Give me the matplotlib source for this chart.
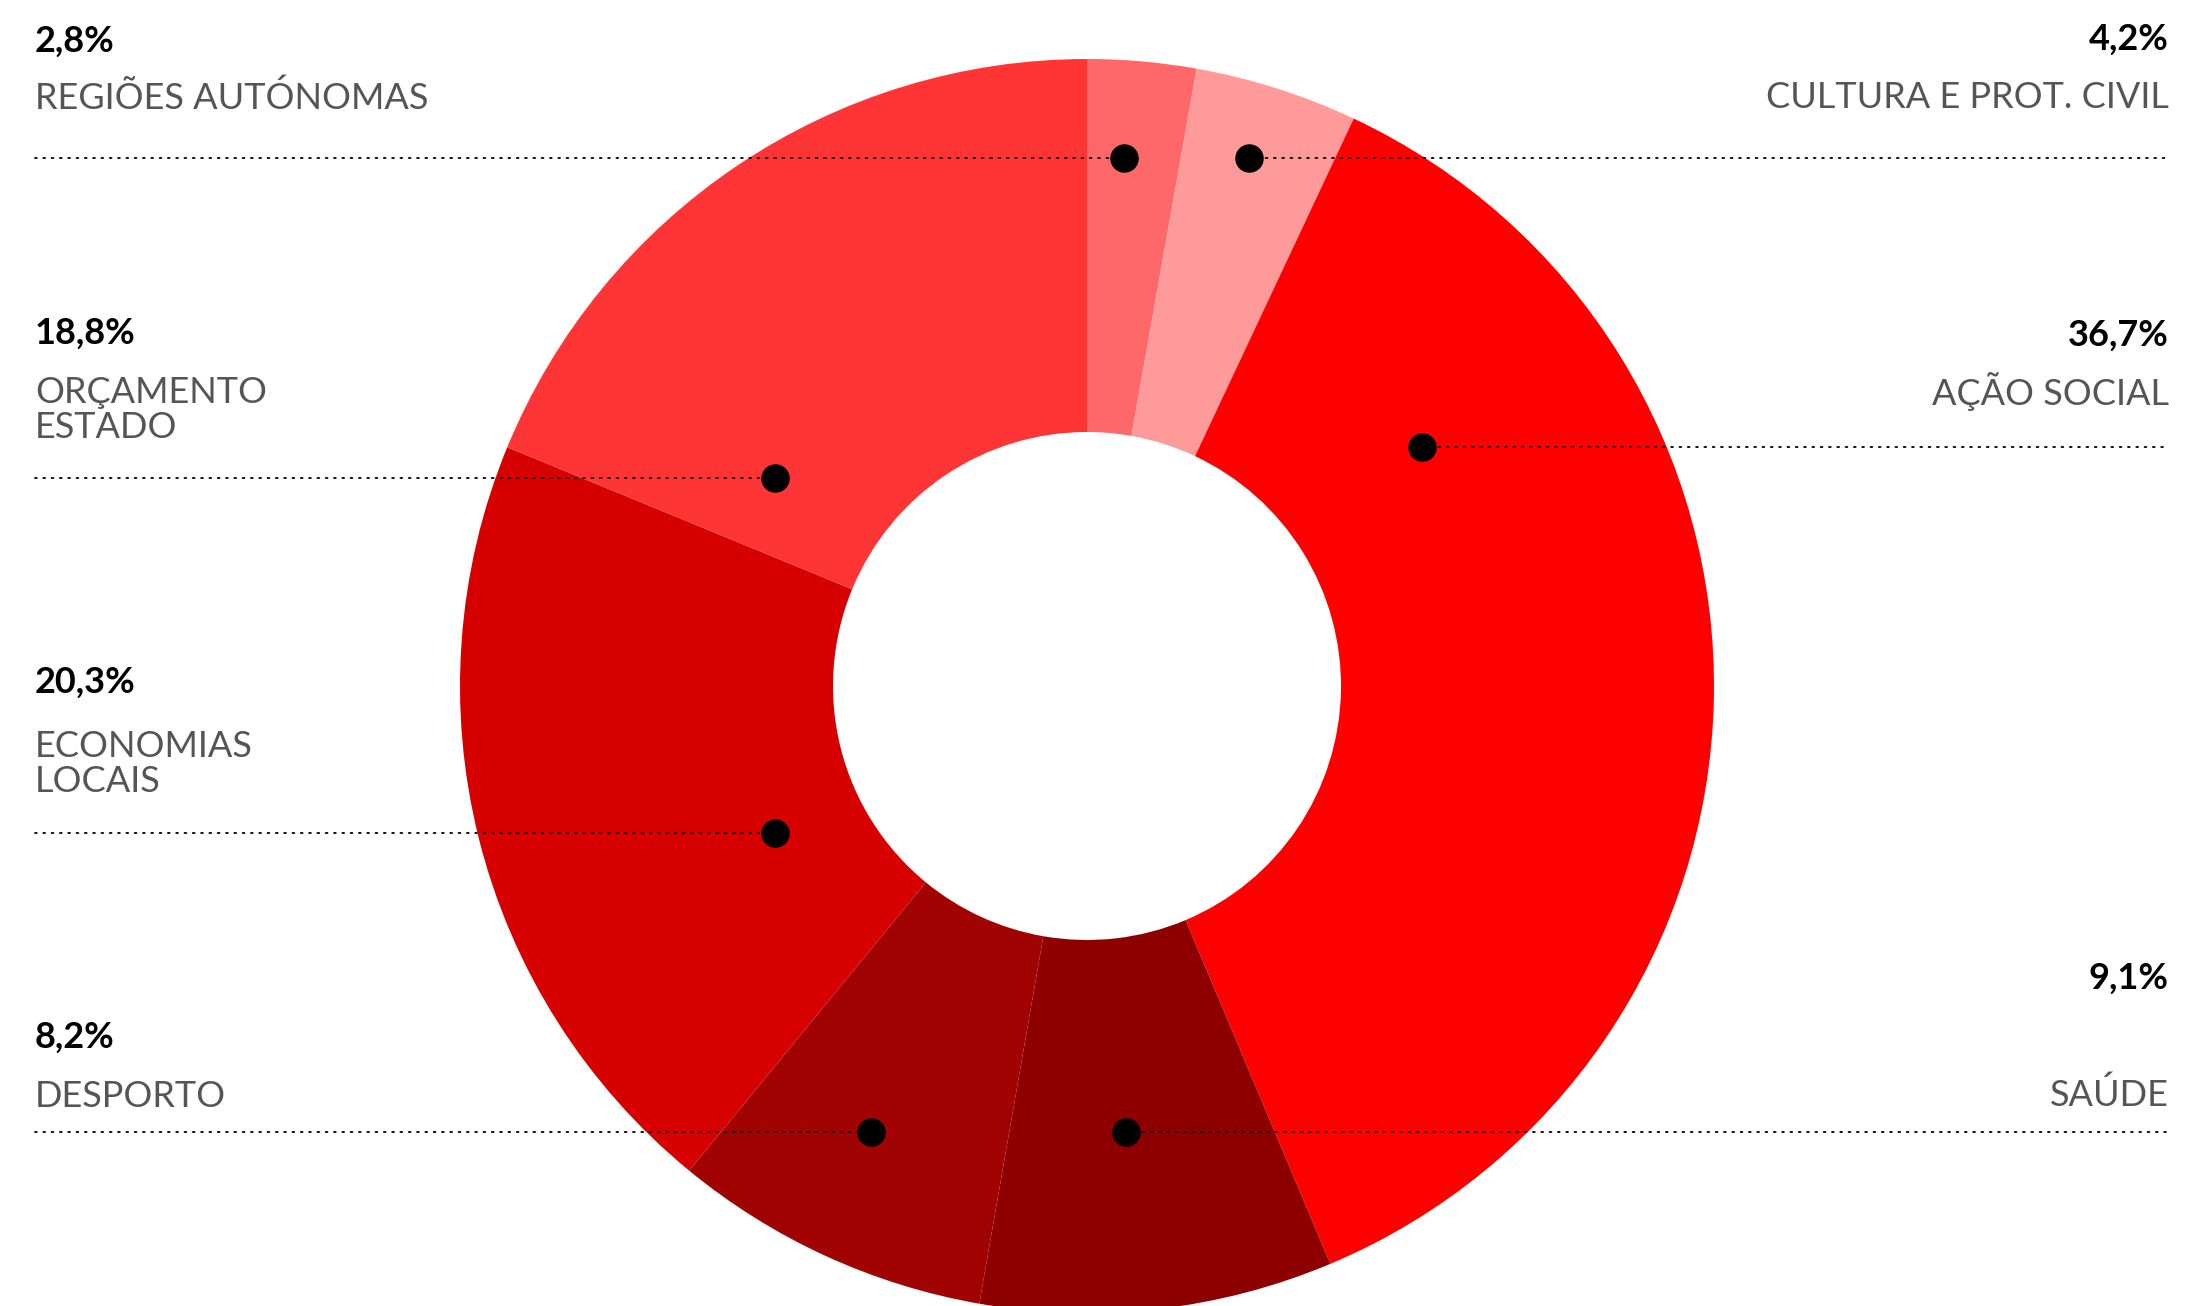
import matplotlib
matplotlib.use('Agg')
import matplotlib.pyplot as plt

W, H = 2188, 1306

# data, clockwise from the top
labels = ['REGIÕES AUTÓNOMAS', 'CULTURA E PROT. CIVIL', 'AÇÃO SOCIAL', 'SAÚDE',
          'DESPORTO', 'ECONOMIAS\nLOCAIS', 'ORÇAMENTO\nESTADO']
values = [2.8, 4.2, 36.7, 9.1, 8.2, 20.3, 18.8]
colors = ['#ff6868', '#ff9a9a', '#ff0000', '#8e0000', '#a10303', '#d60000', '#ff3535']

# label layout (pixels from top-left)
side = ['left', 'right', 'right', 'right', 'left', 'left', 'left']
line_y = [158, 158, 447, 1132, 1132, 833, 478]
dot_x = [1124, 1249, 1422, 1126, 871, 775, 775]
pct_base = [52, 50, 346, 989, 1048, 693, 344]
lab_base = [109, 108, 405, 1106, 1107, 792, 438]

cx, cy, R, r = 1087, 686, 627, 254

fig = plt.figure(figsize=(W / 100, H / 100), dpi=100)
ax = fig.add_axes([0, 0, 1, 1])

ax.pie(values, colors=colors, startangle=90, counterclock=False,
       radius=R, center=(cx, H - cy),
       wedgeprops=dict(width=R - r, linewidth=0))

ax.set_xlim(0, W)
ax.set_ylim(0, H)
ax.set_aspect('equal')
ax.axis('off')

xl, xr = 35, 2169
for i in range(len(values)):
    y = H - line_y[i]
    if side[i] == 'left':
        ax.plot([xl, dot_x[i]], [y, y], color='black', lw=1.3,
                linestyle=(0, (1, 3.6)), dash_capstyle='round', zorder=3)
        tx, ha = xl, 'left'
    else:
        ax.plot([dot_x[i], xr], [y, y], color='black', lw=1.3,
                linestyle=(0, (1, 3.6)), dash_capstyle='round', zorder=3)
        tx, ha = xr, 'right'
    ax.plot(dot_x[i], y, 'o', color='black', ms=19.5, zorder=4)

    pct = ('%.1f' % values[i]).replace('.', ',') + '%'
    ax.text(tx, H - pct_base[i], pct, ha=ha, va='baseline', fontsize=26,
            fontweight='bold', family=['Lato', 'DejaVu Sans'], color='black')
    lines = labels[i].split('\n')
    for k, s in enumerate(lines):
        b = lab_base[i] - (len(lines) - 1 - k) * 35
        ax.text(tx, H - b, s, ha=ha, va='baseline', fontsize=26,
                fontweight='normal', family=['Lato', 'DejaVu Sans'], color='#555555')

fig.savefig('out.png', dpi=100)
